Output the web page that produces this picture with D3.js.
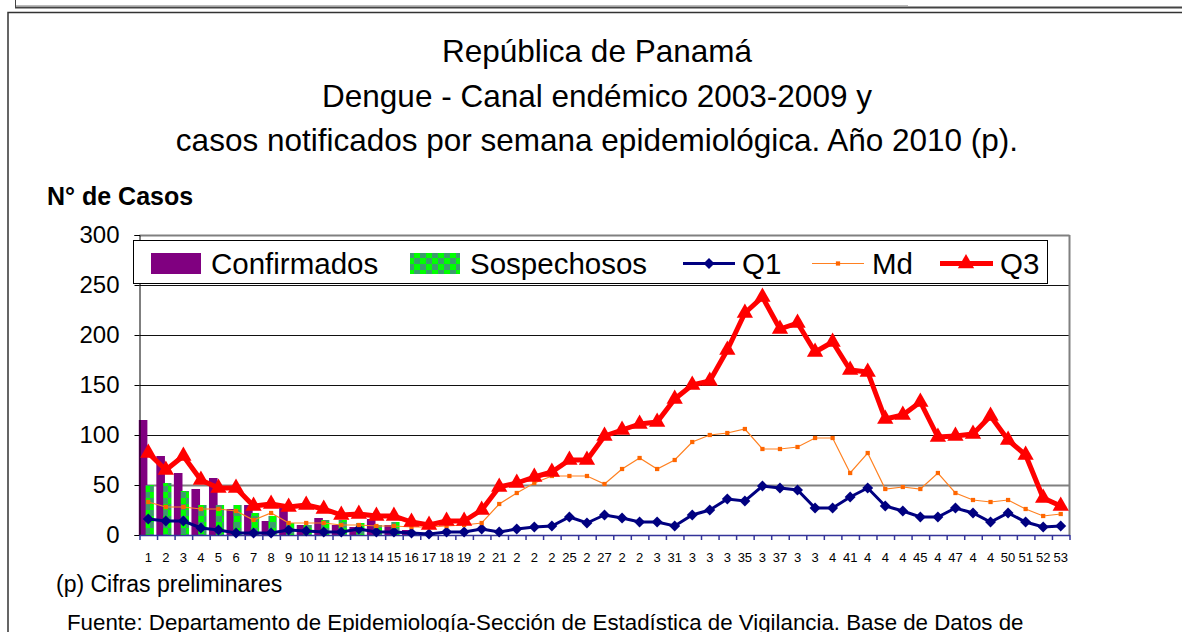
<!DOCTYPE html>
<html>
<head>
<meta charset="utf-8">
<script src="https://cdn.jsdelivr.net/npm/d3@7"></script>
<style>
body { margin: 0; background: #fff; }
svg { display: block; font-family: "Liberation Sans", Arial, sans-serif; }
</style>
</head>
<body>
<div id="chart"></div>
<script>
// datos: semanas epidemiologicas 2010 y canal endemico 2003-2009
const weeks = d3.range(1, 54);
const weekLabels = ["1","2","3","4","5","6","7","8","9","10","11","12","13","14","15","16","17","18","19",
    "2","21","2","2","2","25","2","27","2","2","3","31","3","3","3","35","3","37","3","3",
    "4","41","4","4","4","45","4","47","4","4","50","51","52","53"];
const confirmados = [115, 79, 62, 46, 57, 26, 30, 14, 27, 10, 17, 10, 8, 16, 10, 5, 2];
const sospechosos = [50, 52, 44, 30, 30, 30, 22, 19, 12, 10, 15, 15, 12, 10, 13, 3, 1];
const q1 = [16,14,14,7,5,2,2,2,5,4, 3,3,6,3,3,2,1,3,3,6, 3,6,8,9,18,12,20,17,13,13,
    9,20,25,36,34,49,47,45,27,27, 38,47,29,24,18,18,27,22,13,22, 13,8,9];
const md = [33,28,28,26,26,24,15,22,12,12, 12,10,10,9,9,8,8,9,10,12, 31,42,52,59,59,59,51,66,77,66,
    75,93,100,102,106,86,86,88,97,97, 62,82,46,48,46,62,42,35,33,35, 26,19,21];
const q3 = [82,65,79,55,47,47,29,31,28,30, 26,20,21,19,19,13,10,14,14,25, 48,52,58,63,75,75,99,105,111,113,
    136,150,154,185,222,238,206,212,183,193, 165,163,116,120,133,98,99,101,119,95, 80,37,29];
const yTicks = [0, 50, 100, 150, 200, 250, 300];

const titleLines = ["República de Panamá", "Dengue - Canal endémico 2003-2009 y",
    "casos notificados por semana epidemiológica. Año 2010 (p)."];

const W = 1182, H = 632;
const plot = {left: 139.5, right: 1069.5, top: 235, bottom: 535};

const svg = d3.select('#chart')
    .append('svg')
    .attr('width', W)
    .attr('height', H);

// patron verde de los sospechosos
const defs = svg.append('defs');
const pat = defs.append('pattern')
    .attr('id', 'checker')
    .attr('patternUnits', 'userSpaceOnUse')
    .attr('width', 12)
    .attr('height', 12);
pat.append('rect').attr('width', 12).attr('height', 12).attr('fill', '#00ff00');
pat.append('rect').attr('width', 6).attr('height', 6).attr('fill', '#3c9c6c');
pat.append('rect').attr('x', 6).attr('y', 6).attr('width', 6).attr('height', 6).attr('fill', '#3c9c6c');

// restos de la tabla de arriba y marco
svg.append('line').attr('x1', 15).attr('x2', 908).attr('y1', 5.5).attr('y2', 5.5)
    .attr('stroke', '#bbb');
svg.append('line').attr('x1', 15).attr('x2', W).attr('y1', 7.5).attr('y2', 7.5)
    .attr('stroke', '#444').attr('stroke-width', 2);
svg.append('line').attr('x1', 15.5).attr('x2', 15.5).attr('y1', 0).attr('y2', 7)
    .attr('stroke', '#444');
svg.append('rect')
    .attr('x', 8).attr('y', 12.5)
    .attr('width', W + 20).attr('height', H + 20)
    .attr('fill', 'none')
    .attr('stroke', '#333')
    .attr('stroke-width', 1.5);

svg.append('g')
    .selectAll('text')
    .data(titleLines)
    .join('text')
    .attr('x', 597)
    .attr('y', (d, i) => 62 + i * 44.5)
    .attr('text-anchor', 'middle')
    .style('font-size', '31.5px')
    .text(d => d);

svg.append('text')
    .attr('x', 47)
    .attr('y', 205)
    .style('font-size', '25px')
    .style('font-weight', 'bold')
    .text('N° de Casos');

let xScale = d3.scaleBand()
    .domain(weeks)
    .range([plot.left, plot.right])
    .padding(0);

let yScale = d3.scaleLinear()
    .domain([0, 300])
    .range([plot.bottom, plot.top]);

const cx = w => xScale(w) + xScale.bandwidth() / 2;

// cuadricula
svg.append('g')
    .attr('transform', `translate(${plot.left},0)`)
    .call(d3.axisLeft(yScale).tickValues(yTicks.slice(1)).tickSize(-(plot.right - plot.left)).tickFormat(''))
    .call(g => g.select('.domain').remove())
    .call(g => g.selectAll('line').attr('stroke', (d) => d === 50 || d === 300 ? '#808080' : '#111')
        .attr('stroke-width', d => d === 50 || d === 300 ? 2 : 1));

svg.append('line')
    .attr('x1', plot.right).attr('x2', plot.right)
    .attr('y1', plot.top).attr('y2', plot.bottom)
    .attr('stroke', '#808080').attr('stroke-width', 2);

// barras
const bw = xScale.bandwidth();
svg.append('g')
    .selectAll('rect')
    .data(confirmados)
    .join('rect')
    .attr('x', (d, i) => cx(weeks[i]) - bw * 0.54)
    .attr('width', bw * 0.49)
    .attr('y', d => yScale(d))
    .attr('height', d => yScale(0) - yScale(d))
    .attr('fill', '#800080');

svg.append('g')
    .selectAll('rect')
    .data(sospechosos)
    .join('rect')
    .attr('x', (d, i) => cx(weeks[i]) - bw * 0.15)
    .attr('width', bw * 0.47)
    .attr('y', d => yScale(d))
    .attr('height', d => yScale(0) - yScale(d))
    .attr('fill', 'url(#checker)');

// ejes
const yAxis = d3.axisLeft(yScale)
    .tickValues(yTicks)
    .tickSize(5)
    .tickPadding(15);

svg.append('g')
    .attr('class', 'axis y-axis')
    .attr('transform', `translate(${plot.left},0)`)
    .call(yAxis)
    .call(g => g.selectAll('text').style('font-size', '24px').attr('fill', '#000').attr('font-family', null))
    .call(g => g.selectAll('line, path').attr('stroke', '#000'));

const xAxis = d3.axisBottom(xScale)
    .tickSize(0)
    .tickPadding(18)
    .tickFormat((d, i) => weekLabels[i]);

svg.append('g')
    .attr('class', 'axis x-axis')
    .attr('transform', `translate(0,${plot.bottom})`)
    .call(xAxis)
    .call(g => g.select('.domain').remove())
    .call(g => g.selectAll('text').style('font-size', '13px').attr('fill', '#000').attr('font-family', null));

const edge = d3.scaleLinear().domain([0, 53]).range([plot.left, plot.right]);
svg.append('g')
    .attr('transform', `translate(0,${plot.bottom})`)
    .call(d3.axisBottom(edge).ticks(53).tickSize(5).tickSizeOuter(0).tickFormat(''))
    .call(g => g.selectAll('line, path').attr('stroke', '#333399').attr('stroke-width', 1.5));

// lineas del canal endemico
const line = d3.line().x((d, i) => cx(weeks[i])).y(d => yScale(d));

svg.append('path').datum(q1)
    .attr('d', line).attr('fill', 'none')
    .attr('stroke', '#000080').attr('stroke-width', 3);
svg.append('g').selectAll('path').data(q1).join('path')
    .attr('d', d3.symbol(d3.symbolSquare, 60))
    .attr('transform', (d, i) => `translate(${cx(weeks[i])},${yScale(d)}) rotate(45)`)
    .attr('fill', '#000080');

svg.append('path').datum(md)
    .attr('d', line).attr('fill', 'none')
    .attr('stroke', '#ff8020').attr('stroke-width', 1.2);
svg.append('g').selectAll('path').data(md).join('path')
    .attr('d', d3.symbol(d3.symbolSquare, 18))
    .attr('transform', (d, i) => `translate(${cx(weeks[i])},${yScale(d)})`)
    .attr('fill', '#ff6600');

svg.append('path').datum(q3)
    .attr('d', line).attr('fill', 'none')
    .attr('stroke', '#ff0000').attr('stroke-width', 5)
    .attr('stroke-linejoin', 'round');
svg.append('g').selectAll('path').data(q3).join('path')
    .attr('d', d3.symbol(d3.symbolTriangle, 115))
    .attr('transform', (d, i) => `translate(${cx(weeks[i])},${yScale(d)})`)
    .attr('fill', '#ff0000');

// leyenda
const legend = svg.append('g');
legend.append('rect')
    .attr('x', 133.5).attr('y', 240.5)
    .attr('width', 914).attr('height', 43)
    .attr('fill', '#fff').attr('stroke', '#000');

const legendFont = '29.5px';
const legendY = 274;
legend.append('rect').attr('x', 151).attr('y', 253).attr('width', 50).attr('height', 21).attr('fill', '#800080');
legend.append('rect').attr('x', 410).attr('y', 253).attr('width', 50).attr('height', 21).attr('fill', 'url(#checker)');
legend.append('line').attr('x1', 683).attr('x2', 735).attr('y1', 263.5).attr('y2', 263.5)
    .attr('stroke', '#000080').attr('stroke-width', 3);
legend.append('path').attr('d', d3.symbol(d3.symbolSquare, 60))
    .attr('transform', 'translate(709,263.5) rotate(45)').attr('fill', '#000080');
legend.append('line').attr('x1', 812).attr('x2', 864).attr('y1', 263.5).attr('y2', 263.5)
    .attr('stroke', '#ff8020').attr('stroke-width', 1.2);
legend.append('path').attr('d', d3.symbol(d3.symbolSquare, 18))
    .attr('transform', 'translate(838,263.5)').attr('fill', '#ff6600');
legend.append('line').attr('x1', 940).attr('x2', 993).attr('y1', 263.5).attr('y2', 263.5)
    .attr('stroke', '#ff0000').attr('stroke-width', 5);
legend.append('path').attr('d', d3.symbol(d3.symbolTriangle, 115))
    .attr('transform', 'translate(966,263.5)').attr('fill', '#ff0000');

legend.selectAll('text')
    .data([["Confirmados", 211], ["Sospechosos", 470], ["Q1", 742], ["Md", 872], ["Q3", 1000]])
    .join('text')
    .attr('x', d => d[1])
    .attr('y', legendY)
    .style('font-size', legendFont)
    .text(d => d[0]);

// notas al pie
svg.append('text')
    .attr('x', 56).attr('y', 592)
    .style('font-size', '23px')
    .text('(p) Cifras preliminares');
svg.append('text')
    .attr('x', 67).attr('y', 630)
    .style('font-size', '22.3px')
    .text('Fuente: Departamento de Epidemiología-Sección de Estadística de Vigilancia. Base de Datos de');
</script>
</body>
</html>
